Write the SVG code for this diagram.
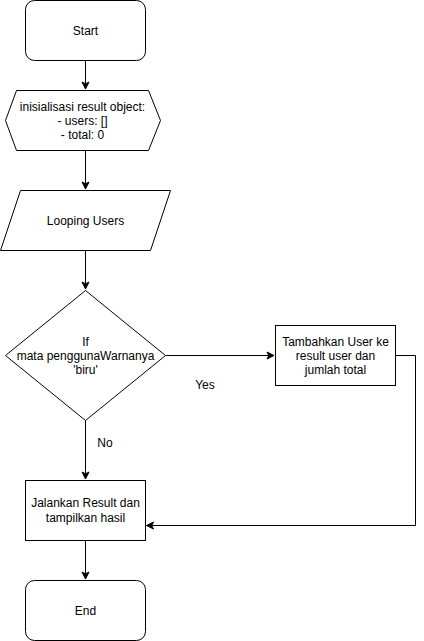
<svg xmlns="http://www.w3.org/2000/svg" width="424" height="641" viewBox="0 0 424 641">
<defs>
<marker id="arr" markerWidth="10" markerHeight="10" refX="8" refY="5" orient="auto" markerUnits="userSpaceOnUse">
<path d="M1,1.5 L8,5 L1,8.5 L2.8,5 Z" fill="#000" stroke="#000" stroke-width="1"/>
</marker>
<style>
.s{fill:#fff;stroke:#000;stroke-width:1}
.t{font-family:"Liberation Sans",Arial,Helvetica,sans-serif;font-size:12px;fill:#000;text-anchor:middle}
.c{fill:none;stroke:#000;stroke-width:1}
</style>
</defs>
<rect width="424" height="641" fill="#fff"/>
<g id="connectors">
<path class="c" d="M85.5,60.5 V89" marker-end="url(#arr)"/>
<path class="c" d="M85.5,150.5 V189" marker-end="url(#arr)"/>
<path class="c" d="M85.5,250.5 V289" marker-end="url(#arr)"/>
<path class="c" d="M165.5,355.5 H274" marker-end="url(#arr)"/>
<path class="c" d="M85.5,420.5 V479" marker-end="url(#arr)"/>
<path class="c" d="M395.5,355.5 H415.5 V525.5 H146.5" marker-end="url(#arr)"/>
<path class="c" d="M85.5,540.5 V579" marker-end="url(#arr)"/>
<text class="t" x="205" y="389">Yes</text>
<text class="t" x="105" y="447">No</text>
</g>
<g id="start">
<rect class="s" x="25.5" y="0.5" width="120" height="60" rx="9" ry="9"/>
<text class="t" x="85.5" y="34.5">Start</text>
</g>
<g id="init">
<polygon class="s" points="16.5,90.5 148.5,90.5 160.5,120.5 148.5,150.5 16.5,150.5 5.5,120.5"/>
<text class="t" x="82.5" y="111">inisialisasi result object:</text>
<text class="t" x="82.5" y="125">- users: []</text>
<text class="t" x="82.5" y="139">- total: 0</text>
</g>
<g id="loop">
<polygon class="s" points="20.5,190.5 170.5,190.5 150.5,250.5 0.5,250.5"/>
<text class="t" x="85.5" y="224.5">Looping Users</text>
</g>
<g id="decision">
<polygon class="s" points="85.5,290.5 165.5,355.5 85.5,420.5 5.5,355.5"/>
<text class="t" x="85.5" y="346">If</text>
<text class="t" x="85.5" y="360">mata penggunaWarnanya</text>
<text class="t" x="85.5" y="374">'biru'</text>
</g>
<g id="add">
<rect class="s" x="275.5" y="325.5" width="120" height="60"/>
<text class="t" x="335.5" y="346">Tambahkan User ke</text>
<text class="t" x="335.5" y="360">result user dan</text>
<text class="t" x="335.5" y="374">jumlah total</text>
</g>
<g id="run">
<rect class="s" x="25.5" y="480.5" width="120" height="60"/>
<text class="t" x="85.5" y="507">Jalankan Result dan</text>
<text class="t" x="85.5" y="522">tampilkan hasil</text>
</g>
<g id="end">
<rect class="s" x="25.5" y="580.5" width="120" height="60" rx="9" ry="9"/>
<text class="t" x="85.5" y="614.5">End</text>
</g>
</svg>
